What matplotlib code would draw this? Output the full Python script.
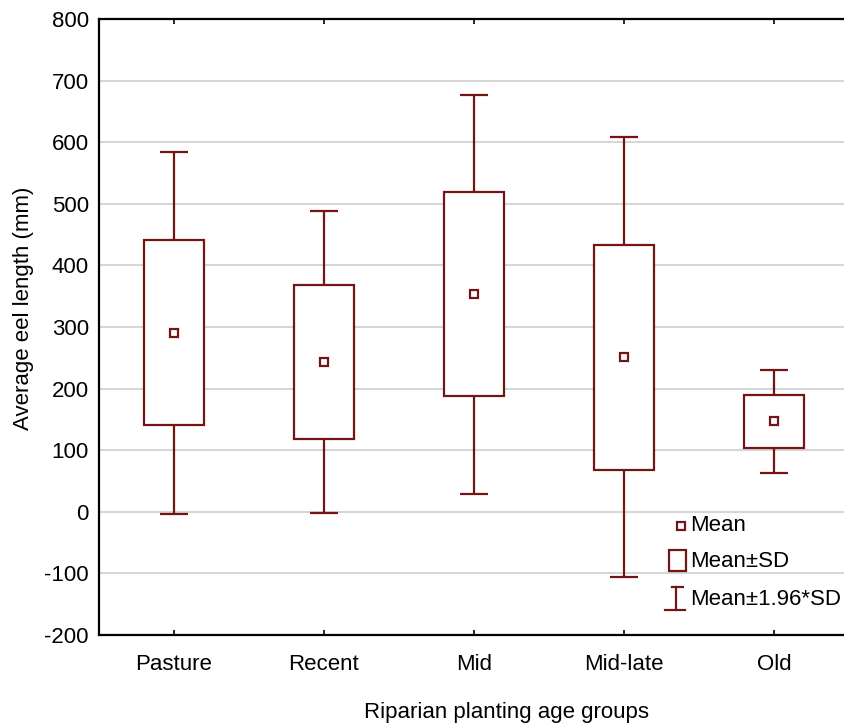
import numpy as np
import matplotlib
matplotlib.use("Agg")
import matplotlib.pyplot as plt

plt.rcParams["font.family"] = ["Liberation Sans", "DejaVu Sans"]
plt.rcParams["axes.unicode_minus"] = False

# Eel length by riparian planting age group (mean and standard deviation, mm)
groups = ["Pasture", "Recent", "Mid", "Mid-late", "Old"]
means = np.array([290.5, 242.7, 353.3, 250.8, 146.6])
sds = np.array([150.2, 125.0, 165.3, 182.3, 43.0])
y_ticks = [-200, -100, 0, 100, 200, 300, 400, 500, 600, 700, 800]

dark_red = "#731515"
lw = 1.6
x = np.arange(len(groups))

fig = plt.figure(figsize=(8.45, 7.25), dpi=100)
ax = fig.add_axes([99 / 845, 90 / 725, 750 / 845, 616 / 725])

# Whiskers: mean +/- 1.96*SD
ax.errorbar(x, means, yerr=1.96 * sds, fmt="none", ecolor=dark_red,
            elinewidth=lw, capsize=10.4, capthick=lw, zorder=2)
# Boxes: mean +/- SD
ax.bar(x, 2 * sds, bottom=means - sds, width=0.4, facecolor="white",
       edgecolor=dark_red, linewidth=lw, zorder=3)
# Means
ax.plot(x, means, "s", ms=6.2, mfc="white", mec=dark_red, mew=lw, zorder=4)

ax.set_xlim(-0.5, 4.5)
ax.set_ylim(-200, 800)
ax.set_yticks(y_ticks)
ax.set_xticks(x)
ax.set_xticklabels(groups)
ax.grid(axis="y", color="#d6d6d6", linewidth=1.5, zorder=0)
ax.set_axisbelow(True)

for side in ["left", "bottom", "top", "right"]:
    ax.spines[side].set_linewidth(1.6)
    ax.spines[side].set_color("black")

ax.tick_params(axis="y", length=0, pad=7.2, labelsize=16)
ax.tick_params(axis="x", direction="in", length=3.6, width=1.2, pad=14,
               labelsize=16, top=True)

ax.set_xlabel("Riparian planting age groups", fontsize=16)
ax.set_ylabel("Average eel length (mm)", fontsize=16)
ax.xaxis.set_label_coords(0.543, -0.109)
ax.yaxis.set_label_coords(-0.0867, 0.531)

# Key for the symbols
tr = ax.transAxes
ax.plot([0.7755], [0.177], "s", ms=6.2, mfc="white", mec=dark_red, mew=lw,
        transform=tr, clip_on=False, zorder=5)
ax.text(0.788, 0.177, "Mean", transform=tr, fontsize=16, va="center", ha="left")

ax.add_patch(plt.Rectangle((0.7604, 0.1044), 0.0223, 0.0336, transform=tr,
                           facecolor="white", edgecolor=dark_red, linewidth=lw,
                           clip_on=False, zorder=5))
ax.text(0.788, 0.120, "Mean±SD", transform=tr, fontsize=16, va="center", ha="left")

ax.plot([0.7693, 0.7693], [0.0406, 0.0774], color=dark_red, lw=lw,
        transform=tr, clip_on=False, zorder=5)
ax.plot([0.7635, 0.7790], [0.0774, 0.0774], color=dark_red, lw=lw,
        transform=tr, clip_on=False, zorder=5)
ax.plot([0.7547, 0.7813], [0.0406, 0.0406], color=dark_red, lw=lw,
        transform=tr, clip_on=False, zorder=5)
ax.text(0.788, 0.0584, "Mean±1.96*SD", transform=tr, fontsize=16,
        va="center", ha="left")

fig.savefig("out.png", dpi=100, facecolor="white")
